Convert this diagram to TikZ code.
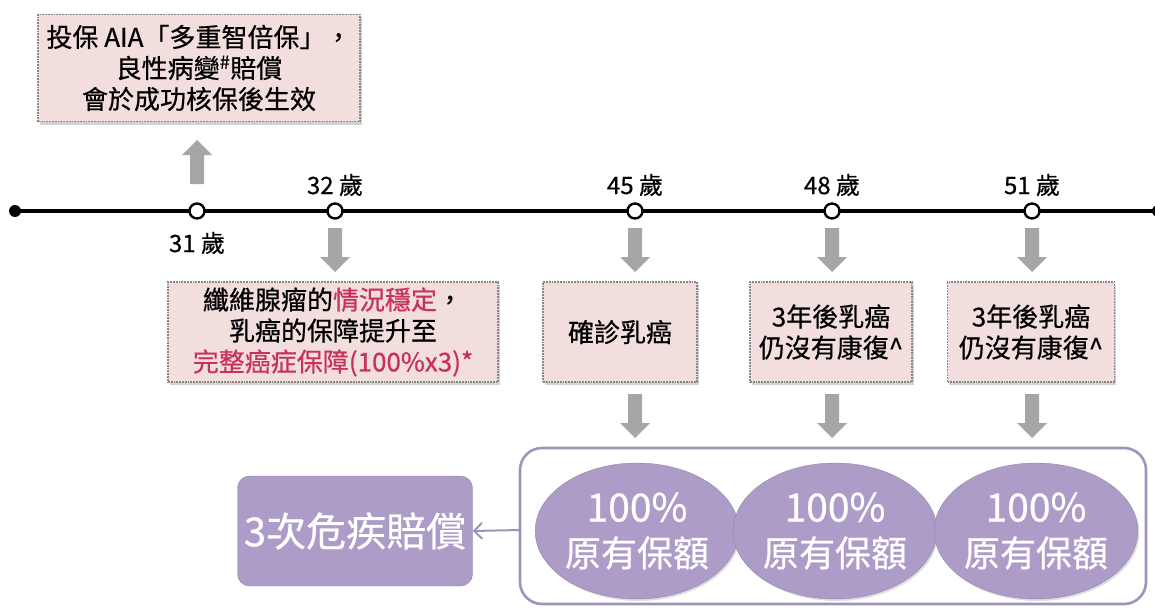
\documentclass[tikz,border=0pt]{standalone}
\usepackage{fontspec}
\setmainfont{Noto Sans CJK TC}[FakeBold=0.6]
\usetikzlibrary{shadows,shapes.geometric,arrows.meta}
\definecolor{pinkfill}{RGB}{242,222,221}
\definecolor{dotgray}{RGB}{135,135,135}
\definecolor{arrgray}{RGB}{166,166,166}
\definecolor{purp}{RGB}{172,156,199}
\definecolor{purpline}{RGB}{160,146,188}
\definecolor{redtxt}{RGB}{200,50,90}
\begin{document}
\begin{tikzpicture}[x=1pt,y=-1pt,
  infobox/.style={draw=dotgray, densely dotted, line width=1.8pt, fill=pinkfill,
    align=center, inner sep=0pt, font=\fontsize{26}{31}\selectfont,
    drop shadow={opacity=0.35,shadow xshift=1.5pt,shadow yshift=-3pt}},
  agelabel/.style={font=\fontsize{24}{26}\selectfont, inner sep=0pt},
  tick/.style={circle, draw=black, fill=white, line width=2.4pt, minimum size=15pt, inner sep=0pt},
  enddot/.style={circle, fill=black, minimum size=12pt, inner sep=0pt},
  amount/.style={ellipse, fill=purp, draw=purp!85!black, line width=0.4pt, minimum width=196pt, minimum height=136pt,
    text=white, align=center, inner sep=0pt, font=\fontsize{36}{45}\selectfont,
    drop shadow={opacity=0.25,shadow xshift=1.5pt,shadow yshift=-2pt}},
  garrow/.pic={\fill[arrgray] (-7,0) -- (7,0) -- (7,29) -- (15,29) -- (0,44) -- (-15,29) -- (-7,29) -- cycle;}
]
\useasboundingbox (0,0) rectangle (1155,607);

% top box
\node[infobox, minimum width=322pt, minimum height=107pt] (top) at (199,68)
  {投保 AIA「多重智倍保」，\\ 良性病變\textsuperscript{\#}賠償\\ 會於成功核保後生效};
\pic[rotate=180] at (197,184) {garrow};

% timeline
\node[enddot] (L) at (15,211) {};
\node[enddot] (R) at (1158,211) {};
\draw[line width=3.6pt] (L.center) -- (R.center);
\node[tick] (t31) at (197,211) {};
\node[tick] (t32) at (335,211) {};
\node[tick] (t45) at (635,211) {};
\node[tick] (t48) at (832,211) {};
\node[tick] (t51) at (1032,211) {};
\node[agelabel] (a31) at (197,243) {31 歲};
\node[agelabel] (a32) at (335,185) {32 歲};
\node[agelabel] (a45) at (635,185) {45 歲};
\node[agelabel] (a48) at (832,185) {48 歲};
\node[agelabel] (a51) at (1032,185) {51 歲};

% first row arrows
\foreach \xx in {335,635,832,1032} \pic at (\xx,228) {garrow};

% event boxes
\node[infobox, minimum width=330pt, minimum height=100pt] (b32) at (333,332)
  {纖維腺瘤的\textcolor{redtxt}{情況穩定}，\\ 乳癌的保障提升至\\ \textcolor{redtxt}{完整癌症保障(100\%x3)*}};
\node[infobox, minimum width=154pt, minimum height=100pt] (b45) at (620,332) {確診乳癌};
\node[infobox, minimum width=162pt, minimum height=100pt] (b48) at (831,332) {3年後乳癌\\ 仍沒有康復\textasciicircum};
\node[infobox, minimum width=167pt, minimum height=100pt] (b51) at (1031,332) {3年後乳癌\\ 仍沒有康復\textasciicircum};

% second row arrows
\foreach \xx in {635,832,1032} \pic at (\xx,394) {garrow};

% big frame
\draw[purpline, line width=2.6pt, rounded corners=22pt] (520,448) rectangle (1146,604);
\coordinate (frameW) at (520,530);

% amounts
\node[amount] (e1) at (637,531) {{\fontsize{39}{45}\selectfont 100\%}\\ 原有保額};
\node[amount] (e2) at (835,531) {{\fontsize{39}{45}\selectfont 100\%}\\ 原有保額};
\node[amount] (e3) at (1036,531) {{\fontsize{39}{45}\selectfont 100\%}\\ 原有保額};

% result
\node[fill=purp, draw=purp!85!black, line width=0.4pt, rounded corners=12pt, minimum width=235pt, minimum height=110pt,
  text=white, inner sep=0pt, font=\fontsize{40}{44}\selectfont] (res) at (355,531) {3次危疾賠償};
\draw[purpline, line width=2pt, -{Straight Barb[length=8pt,width=16pt]}] (frameW) -- (res.east);
\end{tikzpicture}
\end{document}
